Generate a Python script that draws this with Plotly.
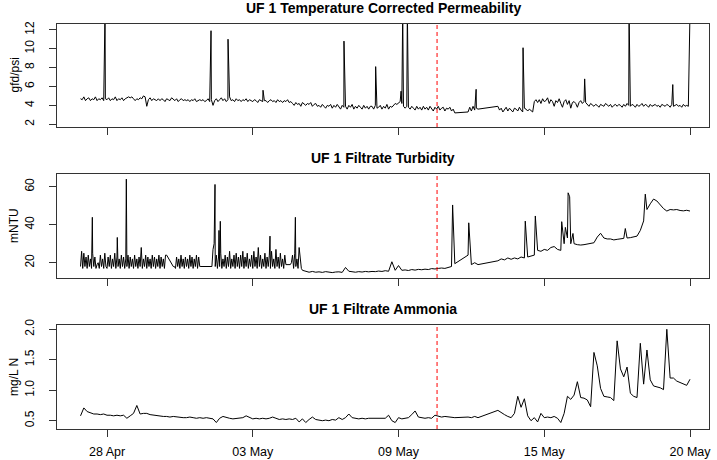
import numpy as np
import pandas as pd
import plotly.graph_objects as go

# ---------------- data ----------------
ORIGIN = pd.Timestamp("2023-04-26 00:00")   # hours below are counted from here

# UF 1 Temperature Corrected Permeability (gfd/psi)
perm_seg_start = [24, 375, 402]
perm_seg_step = [1.5, 1.5, 1.5]
perm_seg1 = [4.7, 4.6, 4.9, 4.5, 4.7, 4.8, 4.5, 4.7, 4.6, 4.9, 4.5, 4.7, 4.6, 4.8, 4.5, 4.7,
             4.6, 4.8, 4.5, 4.7, 4.6, 4.9, 4.5, 4.7, 4.6, 4.8, 4.5, 4.7, 4.8, 4.9, 4.8, 4.9,
             4.7, 4.5, 4.7, 4.6, 4.8, 4.7, 5.0, 4.9, 3.9, 4.6, 4.8, 4.5, 4.7, 4.6, 4.5, 4.7,
             4.5, 4.7, 4.6, 4.4, 4.7, 4.6, 4.5, 4.8, 4.6, 4.5, 4.7, 4.4, 4.6, 4.7, 4.5, 4.6,
             4.5, 4.6, 4.4, 4.6, 4.5, 4.7, 4.4, 4.5, 4.6, 4.5, 4.6, 4.4, 4.5, 4.7, 4.4, 4.6,
             4.0, 4.5, 4.7, 4.4, 4.6, 4.8, 4.5, 4.7, 4.4, 4.6, 4.9, 4.5, 4.6, 4.4, 4.7, 4.5,
             4.6, 4.4, 4.6, 4.5, 4.7, 4.4, 4.6, 4.5, 4.4, 4.6, 4.5, 4.3, 4.6, 4.5, 4.4, 4.5,
             4.5, 4.3, 4.5, 4.6, 4.4, 4.5, 4.3, 4.6, 4.4, 4.5, 4.3, 4.5, 4.4, 4.6, 4.3, 4.4,
             4.2, 4.0, 4.3, 4.1, 4.2, 3.9, 4.3, 4.1, 4.0, 4.2, 4.1, 4.3, 3.9, 4.1, 4.2, 3.9,
             4.0, 3.8, 4.1, 3.9, 3.7, 4.0, 3.9, 4.1, 3.7, 4.0, 3.8, 4.1, 3.9, 3.6, 4.0, 3.8,
             3.9, 3.6, 4.0, 3.8, 4.1, 3.6, 3.9, 3.7, 4.0, 3.8, 3.6, 4.0, 3.7, 3.9, 3.6, 3.9,
             3.9, 3.6, 4.0, 3.7, 3.8, 4.0, 3.6, 3.9, 3.7, 4.1, 3.6, 3.9, 3.8, 4.0, 4.2, 4.1,
             4.3, 4.4, 4.2, 3.9, 3.7, 3.9, 3.8, 3.6, 3.9, 3.7, 3.5, 3.9, 3.6, 3.8, 3.5, 3.9,
             3.6, 3.8, 3.5, 3.9, 3.7, 3.4, 3.8, 3.6, 3.9, 3.5, 3.7, 3.8, 3.4, 3.7, 3.6, 3.8,
             3.4, 3.6, 3.2]
perm_seg2 = [3.3, 3.8, 3.4, 3.9, 3.5, 3.7, 3.6]
perm_seg3 = [3.9, 3.5, 3.7, 3.3, 3.6, 3.8, 3.4, 3.7, 3.5, 3.3, 3.7, 3.6, 3.4, 3.8, 3.5, 3.3,
             3.7, 3.6, 3.4, 3.6,
             3.4, 3.3, 4.4, 4.6,
             4.3, 4.6, 4.2, 4.7, 4.4, 4.5, 4.8, 4.2, 4.6, 4.4, 3.9, 4.5, 4.3, 4.7, 4.2, 3.8,
             4.4, 4.6, 4.1, 4.5, 3.7, 4.3, 4.4, 4.2, 3.8, 4.3, 4.5, 4.2, 4.4, 4.3,
             4.1, 3.9, 4.2, 4.0, 3.9, 4.1, 4.0, 3.8, 4.1, 4.0, 3.9, 4.2, 4.0, 3.9, 4.1, 3.8,
             4.0, 4.1, 3.9, 4.1, 4.0, 3.8, 4.1, 3.9, 4.2, 4.0, 3.9, 4.1, 4.0, 3.8, 4.1, 3.9,
             4.0, 4.2, 3.9, 4.1, 4.0, 3.8, 4.1, 3.9, 4.0, 4.1, 3.9, 4.0, 3.8, 4.1, 4.0, 3.9,
             4.1, 4.0, 3.8, 4.1, 3.9, 4.0, 4.1, 3.9, 4.0, 3.8, 4.1, 3.9, 4.0, 3.9, 14.0]
perm_spike_h = [46.2, 142.2, 157.6, 189.3, 262.6, 291.3, 314.3, 315.8, 320.0,
                382.3, 424.8, 480.6, 520.8, 560.4]
perm_spike_v = [14.0, 11.9, 11.0, 5.6, 10.8, 8.1, 5.5, 14.0, 14.0,
                5.7, 10.1, 6.8, 14.0, 6.2]

# UF 1 Filtrate Turbidity (mNTU)
turb_seg_start = [24, 228, 375, 402]
turb_seg_step = [1, 3, 3, 3]
turb_seg1 = [18, 26, 17, 25, 18, 23, 17, 24, 18, 22, 17, 25, 18, 23, 17, 19, 20, 17, 24, 18, 22, 17, 25, 18,
             17, 23, 18, 24, 17, 22, 18, 25, 17, 23, 18, 22, 17, 24, 18, 23, 17, 22, 18, 24, 17, 23, 18, 22,
             17, 24, 18, 22, 17, 23, 18, 28, 17, 22, 18, 24, 17, 23, 18, 22, 17, 24, 18, 23, 17, 22, 18, 24,
             17, 23, 18, 22, 17, 24, 24, 23, 22, 21, 20, 19, 18, 18, 17, 23, 18, 22, 17, 24, 18, 22, 17, 23,
             18, 22, 17, 24, 18, 23, 17, 22, 18, 24, 17, 23, 18, 18, 18, 18, 18, 18, 18, 18, 18, 18, 18, 18,
             27, 30, 18, 24, 17, 23, 18, 25, 17, 22, 18, 24, 17, 23, 18, 26, 17, 22, 18, 24, 17, 25, 18, 23,
             17, 24, 18, 26, 17, 23, 18, 25, 17, 22, 18, 24, 17, 26, 18, 23, 17, 28, 18, 24, 17, 22, 18, 25,
             17, 23, 18, 24, 17, 26, 18, 22, 17, 27, 18, 23, 17, 25, 18, 22, 17, 24, 19, 19, 19, 19, 19, 20,
             24, 17, 25, 18, 22, 17, 28, 21, 17, 16]
turb_seg2 = [15.5, 15.0, 15.4, 15.0,
             15.2, 14.9, 15.3, 15.0, 14.8, 15.1, 15.2, 14.9,
             17.5, 15.5, 15.2, 15.0, 15.3, 15.1, 15.4, 15.2,
             15.4, 15.3, 15.6, 15.4, 15.8, 15.5, 20.5, 16.0,
             18.5, 16.0, 16.2, 15.9, 16.4, 16.1, 16.5, 16.3,
             16.6, 16.4, 16.9, 16.7, 17.0, 17.2, 17.0, 17.5,
             18.0, 19.5]
turb_seg3 = [24, 19, 20, 19]
turb_seg4 = [21.0, 22.0, 21.5, 22.5, 21.8, 22.5, 22.0, 23.0, 22.5, 23.0,
             23.5, 24.0, 26.5, 26.0, 27.0, 26.5, 28.0, 28.5, 27.0, 26.5,
             30.0, 33.0, 30.0, 30.0, 29.5, 29.3, 29.5, 29.8, 30.2, 30.5,
             33.5, 35.5, 33.0, 32.5, 32.5, 32.0, 32.3, 32.5, 32.8, 33.0,
             33.2, 33.5, 34.0, 37.0, 42.0, 48.0, 51.0, 53.5, 52.5, 50.5,
             48.5, 47.2, 48.0, 47.8, 48.0, 47.5, 47.3, 47.6, 47.2]
turb_spike_h = [34.7, 57.3, 65.5, 145.8, 149.4, 150.6, 195.6, 218.6, 361.0, 375.6,
                426.8, 435.9, 459.8, 463.1, 465.6, 467.0, 470.0, 517.4, 535.5]
turb_spike_v = [43.9, 33.3, 64.0, 61.2, 37.0, 41.8, 34.0, 43.9, 50.4, 41.0,
                41.9, 44.6, 41.6, 38.6, 56.8, 54.7, 35.4, 38.0, 56.1]

# UF 1 Filtrate Ammonia (mg/L N)
amm_seg_start = [24, 375, 402]
amm_seg_step = [3, 3, 3]
amm_seg1 = [0.58, 0.71, 0.65, 0.63, 0.61, 0.61, 0.60, 0.61,
            0.59, 0.59, 0.58, 0.59, 0.58, 0.59, 0.54, 0.58,
            0.62, 0.75, 0.61, 0.62, 0.62, 0.60, 0.59, 0.58,
            0.58, 0.57, 0.57, 0.56, 0.57, 0.56, 0.56, 0.55,
            0.55, 0.56, 0.55, 0.54, 0.55, 0.54, 0.55, 0.54,
            0.53, 0.47, 0.54, 0.57, 0.55, 0.54, 0.53, 0.54,
            0.54, 0.55, 0.58, 0.55, 0.53, 0.54, 0.53, 0.54,
            0.53, 0.54, 0.56, 0.54, 0.52, 0.53, 0.52, 0.53,
            0.52, 0.54, 0.48, 0.53, 0.47, 0.52, 0.56, 0.52,
            0.51, 0.50, 0.51, 0.50, 0.52, 0.51, 0.55, 0.52,
            0.55, 0.61, 0.55, 0.54, 0.53, 0.54, 0.53, 0.54,
            0.54, 0.53, 0.54, 0.53, 0.54, 0.59, 0.50, 0.47,
            0.55, 0.53, 0.54, 0.55, 0.60, 0.66, 0.56, 0.55,
            0.54, 0.55, 0.54, 0.59, 0.57, 0.56, 0.57, 0.56,
            0.56, 0.55]
amm_seg2 = [0.56, 0.55, 0.57, 0.55]
amm_seg3 = [0.67, 0.63, 0.60, 0.57, 0.55, 0.62, 0.90, 0.72, 0.86, 0.58,
            0.50, 0.55, 0.48, 0.62, 0.55, 0.56, 0.55, 0.57, 0.54, 0.47,
            0.62, 0.90, 0.85, 0.92, 1.14, 0.88, 0.87, 0.84, 0.73, 1.62,
            1.40, 1.03, 0.90, 0.89, 0.88, 0.83, 1.81, 1.35, 1.22, 1.38,
            0.95, 0.90, 0.88, 1.77, 1.10, 1.66, 1.17, 1.07, 1.06, 1.04,
            1.01, 2.00, 1.20, 1.20, 1.15, 1.13, 1.11, 1.08, 1.18]
amm_spike_h = []
amm_spike_v = []

panel_titles = ["UF 1 Temperature Corrected Permeability",
                "UF 1 Filtrate Turbidity",
                "UF 1 Filtrate Ammonia"]
y_titles = ["gfd/psi", "mNTU", "mg/L N"]
y_tickvals = [[2, 4, 6, 8, 10, 12], [20, 40, 60], [0.5, 1.0, 1.5, 2.0]]
y_ticktext = [["2", "4", "6", "8", "10", "12"], ["20", "40", "60"],
              ["0.5", "1.0", "1.5", "2.0"]]
x_tick_h = [48, 180, 312, 444, 576]
x_tick_labels = ["28 Apr", "03 May", "09 May", "15 May", "20 May"]
event_h = 346.9   # dashed red marker


# ---------------- build ----------------
def to_dt(h):
    return ORIGIN + pd.to_timedelta(np.asarray(h, dtype=float), unit="h")


def build(starts, steps, segs, spike_h, spike_v):
    hrs, vals = [], []
    for start, step, seg in zip(starts, steps, segs):
        for i, v in enumerate(seg):
            hrs.append(start + step * i)
            vals.append(v)
    hrs += list(spike_h)
    vals += list(spike_v)
    order = np.argsort(np.array(hrs), kind="stable")
    return to_dt(np.array(hrs)[order]), np.array(vals, dtype=float)[order]


series = [build(perm_seg_start, perm_seg_step, [perm_seg1, perm_seg2, perm_seg3],
                perm_spike_h, perm_spike_v),
          build(turb_seg_start, turb_seg_step, [turb_seg1, turb_seg2, turb_seg3, turb_seg4],
                turb_spike_h, turb_spike_v),
          build(amm_seg_start, amm_seg_step, [amm_seg1, amm_seg2, amm_seg3],
                amm_spike_h, amm_spike_v)]

W, H = 717, 460
ML, MR, MT, MB = 57, 8, 24, 31
PH = H - MT - MB
boxes = [(24, 127), (174, 278), (325, 429)]          # pixel top/bottom of each panel
y_ranges = [[1.71, 12.61], [11.95, 66.7], [0.364, 2.07]]
x_range = [to_dt(2.7), to_dt(593.2)]
AX = "#333333"
FONT = "Liberation Sans, Arial, Helvetica, sans-serif"

fig = go.Figure()
for i, (t, v) in enumerate(series):
    sx = "" if i == 0 else str(i + 1)
    fig.add_trace(go.Scatter(x=t, y=v, mode="lines",
                             line=dict(color="black", width=1),
                             xaxis="x" + sx, yaxis="y" + sx,
                             hoverinfo="skip", showlegend=False))

layout = dict(width=W, height=H, margin=dict(l=ML, r=MR, t=MT, b=MB, pad=0, autoexpand=False),
              paper_bgcolor="white", plot_bgcolor="white",
              font=dict(family=FONT, size=12, color="black"),
              showlegend=False)
annotations = []
shapes = []
for i, (top, bot) in enumerate(boxes):
    sx = "" if i == 0 else str(i + 1)
    d0 = (H - MB - bot) / PH
    d1 = (H - MB - top) / PH
    layout["xaxis" + sx] = dict(
        type="date", range=[str(x_range[0]), str(x_range[1])],
        anchor="y" + sx, domain=[0, 1], automargin=False,
        tickmode="array", tickvals=list(to_dt(x_tick_h)), ticktext=x_tick_labels,
        showticklabels=(i == 2), ticks="outside", ticklen=7, tickwidth=1,
        tickcolor=AX, showline=True, linecolor=AX, linewidth=1, mirror=True,
        showgrid=False, zeroline=False, ticklabelstandoff=4,
        tickfont=dict(size=12.5, color="black", family=FONT))
    layout["yaxis" + sx] = dict(
        range=y_ranges[i], domain=[d0, min(d1, 1)], anchor="x" + sx, automargin=False,
        tickmode="array", tickvals=y_tickvals[i], ticktext=y_ticktext[i],
        tickangle=-90, ticks="outside", ticklen=7, tickwidth=1, tickcolor=AX,
        showline=True, linecolor=AX, linewidth=1, mirror=True,
        showgrid=False, zeroline=False, ticklabelstandoff=10,
        tickfont=dict(size=12, color="black", family=FONT))
    shapes.append(dict(type="line", xref="x" + sx, yref="y" + sx + " domain",
                       x0=str(to_dt(event_h)), x1=str(to_dt(event_h)), y0=0, y1=1,
                       line=dict(color="red", width=1, dash="4px,3px")))
    title_y = top - 16
    annotations.append(dict(text="<b>" + panel_titles[i] + "</b>",
                            xref="paper", yref="paper", x=0.5,
                            y=(H - MB - title_y) / PH, xanchor="center", yanchor="middle",
                            showarrow=False, font=dict(size=14, family=FONT, color="black")))
    annotations.append(dict(text=y_titles[i], xref="paper", yref="paper",
                            x=(14 - ML) / (W - ML - MR), y=(H - MB - (top + bot) / 2) / PH,
                            xanchor="center", yanchor="middle", textangle=-90,
                            showarrow=False, font=dict(size=12, family=FONT, color="black")))
layout["annotations"] = annotations
layout["shapes"] = shapes
fig.update_layout(**layout)
fig.write_html("out.html")
